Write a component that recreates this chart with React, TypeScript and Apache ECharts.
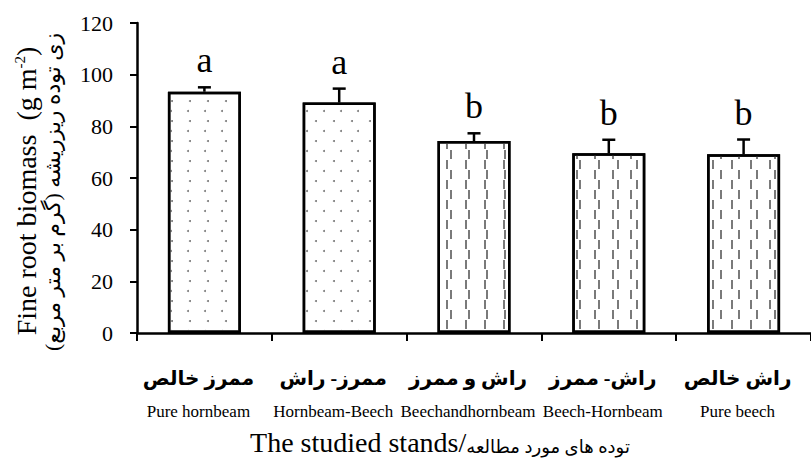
import React, { useEffect, useRef } from "react";
import * as echarts from "echarts";

const categoriesFa = ["ممرز خالص", "ممرز- راش", "راش و ممرز", "راش- ممرز", "راش خالص"];
const categoriesEn = ["Pure hornbeam", "Hornbeam-Beech", "Beechandhornbeam", "Beech-Hornbeam", "Pure beech"];
const biomass = [93.4, 89.2, 74.3, 69.6, 69.2];
const errorTop = [95.1, 94.6, 77.3, 74.8, 74.9];
const letters = ["a", "a", "b", "b", "b"];
const yTicks = { min: 0, max: 120, interval: 20 };

const SERIF = "'Liberation Serif', 'Times New Roman', 'DejaVu Sans', serif";
const FA = "'Liberation Serif', 'DejaVu Sans', sans-serif";

const dotDecal = {
  symbol: "circle",
  symbolSize: 1,
  symbolKeepAspect: true,
  color: "#7a7a7a",
  backgroundColor: "#ffffff",
  dashArrayX: [[2, 15], [0, 8.5, 2, 6.5]],
  dashArrayY: [2, 7.5],
  rotation: 0,
};

const dashDecal = {
  symbol: "rect",
  symbolSize: 1,
  symbolKeepAspect: false,
  color: "#7a7a7a",
  backgroundColor: "#ffffff",
  dashArrayX: [[1.3, 15.7], [0, 8.5, 1.3, 7.2]],
  dashArrayY: [9, 0.5],
  rotation: 0,
};

export default function App() {
  const ref = useRef<HTMLDivElement>(null);

  useEffect(() => {
    if (!ref.current) return;
    const chart = echarts.init(ref.current, null, { renderer: "svg" });
    const barData = biomass.map((v, i) => ({
      value: v,
      itemStyle: { decal: i < 2 ? dotDecal : dashDecal },
    }));
    const errData = biomass.map((v, i) => [i, v, errorTop[i]]);

    chart.setOption({
      animation: false,
      backgroundColor: "#ffffff",
      grid: { left: 137, top: 23, width: 685, height: 310, containLabel: false },
      xAxis: {
        type: "category",
        data: categoriesFa.map((fa, i) => fa + "|" + categoriesEn[i]),
        axisLine: { lineStyle: { color: "#000", width: 2.5 } },
        axisTick: { show: true, alignWithLabel: false, length: 8, lineStyle: { color: "#000", width: 2 } },
        axisLabel: {
          interval: 0,
          margin: 27,
          padding: [0, 12, 0, 0],
          formatter: (v: string) => {
            const [fa, en] = v.split("|");
            return `{fa|${fa}}\n{en|${en}}`;
          },
          rich: {
            fa: { fontFamily: FA, fontSize: 20, fontWeight: "bold", color: "#000", lineHeight: 35, align: "center" },
            en: { fontFamily: SERIF, fontSize: 17, color: "#000", lineHeight: 32, align: "center" },
          },
        },
        splitLine: { show: false },
      },
      yAxis: {
        type: "value",
        min: yTicks.min,
        max: yTicks.max,
        interval: yTicks.interval,
        axisLine: { show: true, lineStyle: { color: "#000", width: 2.5 } },
        axisTick: { show: true, length: 7, lineStyle: { color: "#000", width: 2 } },
        axisLabel: { fontFamily: SERIF, fontSize: 22, color: "#000", margin: 24 },
        splitLine: { show: false },
      },
      graphic: [
        {
          type: "text",
          x: 26,
          y: 191,
          rotation: Math.PI / 2,
          style: {
            text: "{t|Fine root biomass  (g m}{s|-2}{t|)}",
            align: "center",
            verticalAlign: "middle",
            rich: {
              t: { fontFamily: SERIF, fontSize: 28, fill: "#000" },
              s: { fontFamily: SERIF, fontSize: 15, fill: "#000", padding: [0, 0, 12, 0] },
            },
          },
        },
        {
          type: "text",
          x: 52,
          y: 192,
          rotation: Math.PI / 2,
          style: {
            text: "زی توده ریزریشه (گرم بر متر مربع)",
            fontFamily: FA,
            fontSize: 22,
            fill: "#000",
            align: "center",
            verticalAlign: "middle",
          },
        },
        {
          type: "text",
          x: 440,
          y: 442,
          style: {
            text: "{en|The studied stands/}{fa|توده های مورد مطالعه}",
            align: "center",
            verticalAlign: "middle",
            rich: {
              en: { fontFamily: SERIF, fontSize: 28, fill: "#000" },
              fa: { fontFamily: FA, fontSize: 18, fill: "#000", padding: [10, 0, 0, 0] },
            },
          },
        },
      ],
      series: [
        {
          type: "bar",
          data: barData,
          barWidth: 73,
          itemStyle: { color: "#ffffff", borderColor: "#000", borderWidth: 2.5 },
          z: 2,
        },
        {
          type: "custom",
          data: errData,
          z: 3,
          renderItem: (params: any, api: any) => {
            const idx = api.value(0);
            const base = api.coord([idx, api.value(1)]);
            const top = api.coord([idx, api.value(2)]);
            const cap = 6.5;
            return {
              type: "group",
              children: [
                {
                  type: "line",
                  shape: { x1: base[0], y1: base[1], x2: top[0], y2: top[1] },
                  style: { stroke: "#000", lineWidth: 2.5 },
                },
                {
                  type: "line",
                  shape: { x1: top[0] - cap, y1: top[1], x2: top[0] + cap, y2: top[1] },
                  style: { stroke: "#000", lineWidth: 2.5 },
                },
                {
                  type: "text",
                  x: top[0],
                  y: top[1] - 9,
                  style: {
                    text: letters[params.dataIndex],
                    fontFamily: SERIF,
                    fontSize: 36,
                    fill: "#000",
                    align: "center",
                    verticalAlign: "bottom",
                  },
                },
              ],
            };
          },
        },
      ],
    });
    return () => chart.dispose();
  }, []);

  return (
    <div
      ref={ref}
      style={{ position: "fixed", left: 0, top: 0, width: 811, height: 462, background: "#fff" }}
    />
  );
}
